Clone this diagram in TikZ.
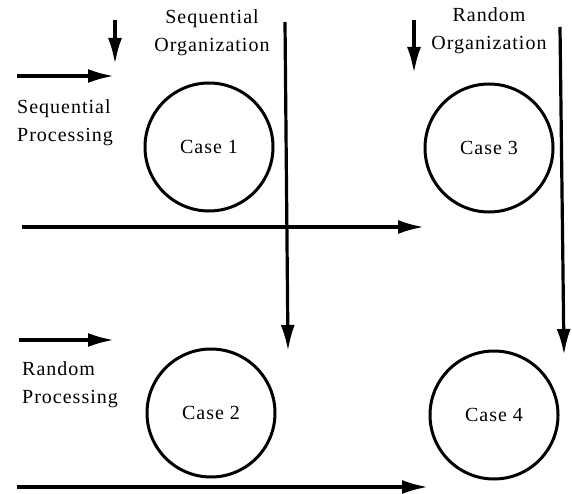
\documentclass[tikz,border=0pt]{standalone}
\usepackage{fontspec}
\setmainfont{Liberation Serif}[LetterSpace=5]
\usetikzlibrary{arrows.meta}
\begin{document}
\begin{tikzpicture}[x=1pt,y=-1pt,
  casecircle/.style={circle,draw,line width=3pt,minimum size=128pt,inner sep=0pt,font=\fontsize{20}{24}\selectfont},
  label/.style={font=\fontsize{20}{28}\selectfont,inner sep=0pt},
  flow/.style={line width=3.2pt,-{Latex[length=26pt,width=14pt]}}]
\useasboundingbox (0,0) rectangle (572,494);
\fill[white] (0,0) rectangle (572,494);

% the four cases
\node[casecircle] (c1) at (209,147) {Case 1};
\node[casecircle] (c3) at (489,148) {Case 3};
\node[casecircle] (c2) at (211,413) {Case 2};
\node[casecircle] (c4) at (494,415) {Case 4};

% headings
\node[label,align=center] (so) at (212,33) {Sequential\\Organization};
\node[label,align=center] (ro) at (489,31) {Random\\Organization};
\node[label,align=left,anchor=west] (sp) at (17,123) {Sequential\\Processing};
\node[label,align=left,anchor=west] (rp) at (22,385) {Random\\Processing};

% arrow end points
\coordinate (a1s) at (115,20);  \coordinate (a1e) at (115,64);
\coordinate (a2s) at (17,76);   \coordinate (a2e) at (114,76);
\coordinate (v1s) at (285,22);  \coordinate (v1e) at (288,351);
\coordinate (h1s) at (22,227);  \coordinate (h1e) at (424,227);
\coordinate (a3s) at (414,20);  \coordinate (a3e) at (414,73);
\coordinate (v2s) at (560,27);  \coordinate (v2e) at (564,355);
\coordinate (a4s) at (19,340);  \coordinate (a4e) at (114,340);
\coordinate (h2s) at (17,487);  \coordinate (h2e) at (428,487);

\draw[flow] (a1s) -- (a1e);
\draw[flow] (a2s) -- (a2e);
\draw[flow] (v1s) -- (v1e);
\draw[flow] (h1s) -- (h1e);
\draw[flow] (a3s) -- (a3e);
\draw[flow] (v2s) -- (v2e);
\draw[flow] (a4s) -- (a4e);
\draw[flow] (h2s) -- (h2e);
\end{tikzpicture}
\end{document}
